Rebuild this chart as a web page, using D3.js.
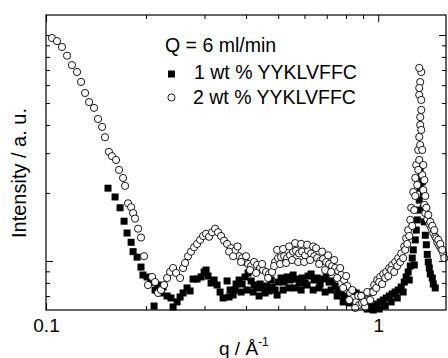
<!DOCTYPE html>
<html>
<head>
<meta charset="utf-8">
<script src="https://cdnjs.cloudflare.com/ajax/libs/d3/7.8.5/d3.min.js"></script>
<style>
  body { margin: 0; background: #fff; }
  text { font-family: Arial, 'Liberation Sans', sans-serif; fill: #000; }
</style>
</head>
<body>
<div id="chart"></div>
<script>
// 2 wt % YYKLVFFC  [q (1/A), intensity (a.u.)]
let wt2 = [
  [0.1042, 9.70], [0.1079, 9.40], [0.1117, 8.85], [0.1157, 8.10], [0.1197, 7.36],
  [0.1240, 6.86], [0.1275, 6.20], [0.1311, 5.54], [0.1348, 5.05], [0.1395, 4.76],
  [0.1434, 4.25], [0.1475, 3.92], [0.1505, 3.53], [0.1547, 3.04], [0.1580, 2.91],
  [0.1625, 2.80], [0.1659, 2.53], [0.1706, 2.33], [0.1730, 2.15], [0.1766, 1.80],
  [0.1804, 1.73], [0.1829, 1.63], [0.1854, 1.54], [0.1893, 1.39], [0.1932, 1.27],
  [0.1973, 1.05], [0.2028, 0.783], [0.2086, 0.850], [0.2130, 0.807], [0.2174, 0.722],
  [0.2220, 0.744], [0.2267, 0.783], [0.2315, 0.841], [0.2363, 0.894], [0.2413, 0.931],
  [0.2464, 0.885], [0.2533, 0.841], [0.2586, 0.931], [0.2622, 0.980], [0.2677, 1.05],
  [0.2733, 1.10], [0.2791, 1.15], [0.2850, 1.19], [0.2910, 1.24], [0.2971, 1.29],
  [0.3033, 1.32], [0.3097, 1.28], [0.3162, 1.34], [0.3228, 1.39], [0.3296, 1.34],
  [0.3365, 1.29], [0.3436, 1.23], [0.3508, 1.19], [0.3607, 1.14], [0.3709, 1.11],
  [0.3813, 1.05], [0.3893, 1.03], [0.3975, 0.990], [0.4058, 0.970], [0.4144, 0.950],
  [0.4231, 0.990], [0.4320, 0.960], [0.4410, 0.931], [0.4503, 0.912], [0.4597, 0.894],
  [0.4694, 0.876], [0.4792, 0.894], [0.4894, 0.990], [0.4996, 1.03], [0.5101, 1.04],
  [0.5209, 1.05], [0.5318, 1.03], [0.5430, 1.06], [0.5544, 1.10], [0.5660, 1.11],
  [0.5779, 1.08], [0.5901, 1.10], [0.6026, 1.06], [0.6152, 1.11], [0.6282, 1.08],
  [0.6414, 1.05], [0.6549, 1.03], [0.6687, 1.00], [0.6827, 1.02], [0.6971, 0.990],
  [0.7117, 0.970], [0.7267, 0.950], [0.7421, 0.931], [0.7577, 0.903], [0.7736, 0.867],
  [0.7898, 0.824], [0.8065, 0.775], [0.8235, 0.722], [0.8406, 0.686], [0.8585, 0.659],
  [0.8765, 0.639], [0.8948, 0.652], [0.9138, 0.626], [0.9333, 0.672], [0.9527, 0.729],
  [0.9729, 0.783], [0.9932, 0.824], [1.014, 0.850], [1.036, 0.876], [1.057, 0.894],
  [1.080, 0.931], [1.102, 0.960], [1.125, 0.990], [1.149, 1.03], [1.173, 1.08],
  [1.198, 1.16], [1.214, 1.26], [1.231, 1.37], [1.249, 1.52], [1.257, 1.72],
  [1.275, 2.02], [1.293, 2.33], [1.302, 2.66], [1.320, 3.10], [1.329, 3.54],
  [1.338, 4.00], [1.348, 4.66], [1.329, 5.43], [1.338, 6.19], [1.348, 6.86],
  [1.329, 7.15], [1.357, 2.40], [1.367, 2.06], [1.377, 1.77], [1.386, 1.63],
  [1.405, 1.53], [1.425, 1.46], [1.445, 1.40], [1.465, 1.33], [1.485, 1.28],
  [1.506, 1.21], [1.527, 1.17], [1.548, 1.13], [1.570, 1.08], [1.581, 1.03],
  // scatter around the band
  [0.3557, 1.10], [0.3658, 1.05], [0.3773, 1.16], [0.3866, 0.990], [0.4002, 1.05],
  [0.4115, 0.912], [0.4290, 0.885], [0.4472, 0.970], [0.4662, 0.841], [0.4860, 0.950],
  [0.4962, 1.12], [0.5066, 0.970], [0.5173, 1.13], [0.5281, 0.980], [0.5393, 1.16],
  [0.5506, 1.01], [0.5623, 1.20], [0.5739, 0.990], [0.5861, 1.19], [0.5984, 0.990],
  [0.6110, 1.18], [0.6239, 1.01], [0.6370, 1.16], [0.6504, 1.14], [0.6640, 0.970],
  [0.6780, 1.10], [0.6924, 0.912], [0.7069, 1.06], [0.7217, 0.894], [0.7369, 1.01],
  [0.7525, 0.841], [0.7682, 0.931], [0.7845, 0.760], [0.8010, 0.858], [0.8179, 0.672],
  [0.8350, 0.744], [0.8526, 0.620], [0.8706, 0.700], [0.8889, 0.700], [0.9076, 0.659],
  [0.9267, 0.729], [0.9461, 0.672], [0.9660, 0.729], [0.9863, 0.760], [1.007, 0.807],
  [1.028, 0.791], [1.050, 0.841], [1.072, 0.858], [1.094, 0.912], [1.117, 0.894],
  [1.141, 0.950], [1.165, 0.990], [1.189, 1.03], [1.206, 1.12], [1.223, 1.19],
  [1.240, 1.29], [1.266, 1.43], [1.284, 1.68], [1.293, 1.94], [1.311, 2.17],
  [1.320, 2.53], [1.329, 2.80], [1.338, 3.26], [1.348, 3.80], [1.338, 4.33],
  [1.348, 5.16], [1.329, 5.83], [1.357, 3.10], [1.367, 2.66], [1.377, 2.28],
  [1.386, 1.94], [1.396, 1.72], [1.415, 1.60], [1.435, 1.49], [1.455, 1.43],
  [1.475, 1.37], [1.496, 1.26], [1.517, 1.24], [1.538, 1.19], [1.559, 1.12]
]

// 1 wt % YYKLVFFC  [q (1/A), intensity (a.u.)]
let wt1 = [
  [0.1537, 2.10], [0.1614, 1.92], [0.1671, 1.72], [0.1718, 1.50], [0.1754, 1.33],
  [0.1804, 1.21], [0.1829, 1.10], [0.1880, 1.04], [0.1932, 0.940], [0.1958, 0.867],
  [0.2014, 0.850], [0.2071, 0.807], [0.2130, 0.744], [0.2174, 0.783], [0.2115, 0.632],
  [0.2220, 0.722], [0.2251, 0.767], [0.2315, 0.700], [0.2379, 0.686], [0.2413, 0.626],
  [0.2481, 0.659], [0.2533, 0.693], [0.2586, 0.722], [0.2658, 0.760], [0.2715, 0.737],
  [0.2772, 0.832], [0.2850, 0.832], [0.2930, 0.850], [0.2992, 0.894], [0.3033, 0.912],
  [0.3075, 0.858], [0.3140, 0.799], [0.3206, 0.824], [0.3274, 0.783], [0.3342, 0.729],
  [0.3412, 0.686], [0.3508, 0.816], [0.3582, 0.744], [0.3658, 0.707], [0.3734, 0.791],
  [0.3813, 0.824], [0.3893, 0.791], [0.3975, 0.850], [0.4058, 0.885], [0.4144, 0.816],
  [0.4231, 0.783], [0.4320, 0.760], [0.4410, 0.791], [0.4503, 0.760], [0.4597, 0.775],
  [0.4694, 0.737], [0.4792, 0.767], [0.4894, 0.744], [0.4996, 0.807], [0.5101, 0.841],
  [0.5209, 0.807], [0.5318, 0.850], [0.5430, 0.824], [0.5544, 0.867], [0.5660, 0.832],
  [0.5779, 0.799], [0.5901, 0.841], [0.6026, 0.799], [0.6152, 0.858], [0.6282, 0.876],
  [0.6414, 0.824], [0.6549, 0.841], [0.6687, 0.791], [0.6827, 0.832], [0.6971, 0.850],
  [0.7117, 0.807], [0.7267, 0.816], [0.7421, 0.775], [0.7577, 0.744], [0.7736, 0.722],
  [0.7898, 0.693], [0.8065, 0.700], [0.8235, 0.715], [0.8406, 0.729], [0.8585, 0.722],
  [0.8765, 0.707], [0.8948, 0.679], [0.9138, 0.659], [0.9333, 0.639], [0.9527, 0.626],
  [0.9729, 0.632], [0.9932, 0.645], [1.014, 0.659], [1.036, 0.672], [1.057, 0.686],
  [1.080, 0.700], [1.102, 0.715], [1.125, 0.729], [1.149, 0.744], [1.173, 0.767],
  [1.198, 0.807], [1.214, 0.850], [1.231, 0.894], [1.249, 0.950], [1.266, 1.03],
  [1.275, 1.12], [1.293, 1.24], [1.302, 1.37], [1.311, 1.52], [1.320, 1.68],
  [1.329, 1.86], [1.338, 2.10], [1.348, 2.38], [1.338, 2.58], [1.357, 2.24],
  [1.367, 1.96], [1.367, 1.72], [1.377, 1.49], [1.386, 1.30], [1.396, 1.18],
  [1.405, 1.07], [1.415, 0.990], [1.425, 0.931], [1.435, 0.876], [1.455, 0.841],
  [1.465, 0.791], [1.485, 0.760],
  // scatter around the band
  [0.3557, 0.693], [0.3709, 0.744], [0.3866, 0.729], [0.4030, 0.744], [0.4202, 0.729],
  [0.4380, 0.700], [0.4566, 0.722], [0.4760, 0.824], [0.4962, 0.707], [0.5173, 0.744],
  [0.5393, 0.760], [0.5623, 0.760], [0.5861, 0.744], [0.6110, 0.783], [0.6370, 0.744],
  [0.6640, 0.760], [0.6924, 0.729], [0.7217, 0.744], [0.7525, 0.700], [0.7845, 0.659],
  [0.8179, 0.652], [0.8526, 0.672], [0.8889, 0.639], [0.9267, 0.613], [0.9660, 0.607],
  [1.007, 0.613], [1.050, 0.632], [1.094, 0.659], [1.141, 0.686], [1.189, 0.729],
  [1.240, 0.824], [1.284, 0.960]
]

let xMajorTicks = [0.1, 1]
let xTickLabels = ['0.1', '1']
let xMinorTicks = [0.2, 0.3, 0.4, 0.5, 0.6, 0.7, 0.8, 0.9]
let yMajorTicks = [1, 10]
let yMinorTicks = [0.7, 0.8, 0.9, 2, 3, 4, 5, 6, 7, 8, 9]
let legendTitle = 'Q = 6 ml/min'
let seriesNames = ['1 wt % YYKLVFFC', '2 wt % YYKLVFFC']

let margin = { top: 15, left: 46, right: 2, bottom: 48 }
let width = 448 - margin.left - margin.right
let height = 358 - margin.top - margin.bottom

let root = d3
  .select('#chart')
  .append('svg')
  .attr('width', width + margin.left + margin.right)
  .attr('height', height + margin.top + margin.bottom)

let svg = root
  .append('g')
  .attr('transform', 'translate(' + margin.left + ',' + margin.top + ')')

let x = d3.scaleLog().domain([0.1, 1.6]).range([0, width])
let y = d3.scaleLog().domain([0.607, 12.26]).range([height, 0])

// axes: ticks point inward on all four sides
function drawAxes(axisFn, scale, values, size, transform, labels) {
  let ax = axisFn(scale).tickValues(values).tickSizeInner(-size).tickSizeOuter(0)
  if (labels) {
    ax.tickPadding(9).tickFormat((d, i) => labels[i])
  } else {
    ax.tickFormat('')
  }
  let g = svg.append('g').attr('transform', transform).call(ax)
  g.select('.domain').remove()
  g.selectAll('line').attr('stroke', '#000').attr('stroke-width', 1)
  g.selectAll('text').style('font-size', '19px').attr('font-family', null)
  return g
}

drawAxes(d3.axisBottom, x, xMajorTicks, 7, `translate(0,${height})`, xTickLabels)
drawAxes(d3.axisBottom, x, xMinorTicks, 4, `translate(0,${height})`)
drawAxes(d3.axisTop, x, xMajorTicks, 7, 'translate(0,0)')
drawAxes(d3.axisTop, x, xMinorTicks, 4, 'translate(0,0)')
drawAxes(d3.axisLeft, y, yMajorTicks, 7, 'translate(0,0)')
drawAxes(d3.axisLeft, y, yMinorTicks, 4, 'translate(0,0)')
drawAxes(d3.axisRight, y, yMajorTicks, 7, `translate(${width},0)`)
drawAxes(d3.axisRight, y, yMinorTicks, 4, `translate(${width},0)`)

// 1 wt % : filled squares
let sq = 7
svg
  .append('g')
  .selectAll('.sq')
  .data(wt1)
  .enter()
  .append('rect')
  .attr('class', 'sq')
  .attr('x', d => x(d[0]) - sq / 2)
  .attr('y', d => y(d[1]) - sq / 2)
  .attr('width', sq)
  .attr('height', sq)
  .attr('fill', '#000')

// 2 wt % : open circles
svg
  .append('g')
  .selectAll('.circ')
  .data(wt2)
  .enter()
  .append('circle')
  .attr('class', 'circ')
  .attr('cx', d => x(d[0]))
  .attr('cy', d => y(d[1]))
  .attr('r', 3.6)
  .attr('fill', '#fff')
  .attr('stroke', '#000')
  .attr('stroke-width', 0.9)

// frame
svg
  .append('rect')
  .attr('width', width)
  .attr('height', height)
  .attr('fill', 'none')
  .attr('stroke', '#000')
  .attr('stroke-width', 1.2)

// legend
let legend = svg.append('g').attr('transform', 'translate(119,0)')
legend
  .append('text')
  .attr('x', 0)
  .attr('y', 37)
  .style('font-size', '19.5px')
  .text(legendTitle)
legend
  .append('rect')
  .attr('x', 3)
  .attr('y', 55.5)
  .attr('width', 7)
  .attr('height', 7)
  .attr('fill', '#000')
legend
  .append('text')
  .attr('x', 29)
  .attr('y', 64)
  .style('font-size', '19.5px')
  .text(seriesNames[0])
legend
  .append('circle')
  .attr('cx', 6.5)
  .attr('cy', 82.5)
  .attr('r', 3.6)
  .attr('fill', '#fff')
  .attr('stroke', '#000')
  .attr('stroke-width', 0.9)
legend
  .append('text')
  .attr('x', 28)
  .attr('y', 89)
  .style('font-size', '19.5px')
  .text(seriesNames[1])

// axis titles
let xTitle = root
  .append('text')
  .attr('x', 219)
  .attr('y', 355)
  .style('font-size', '19px')
xTitle.append('tspan').text('q / Å')
xTitle
  .append('tspan')
  .attr('dy', -9)
  .style('font-size', '12px')
  .text('-1')

root
  .append('text')
  .attr('transform', 'translate(26,173) rotate(-90)')
  .attr('text-anchor', 'middle')
  .style('font-size', '20px')
  .text('Intensity / a. u.')
</script>
</body>
</html>
